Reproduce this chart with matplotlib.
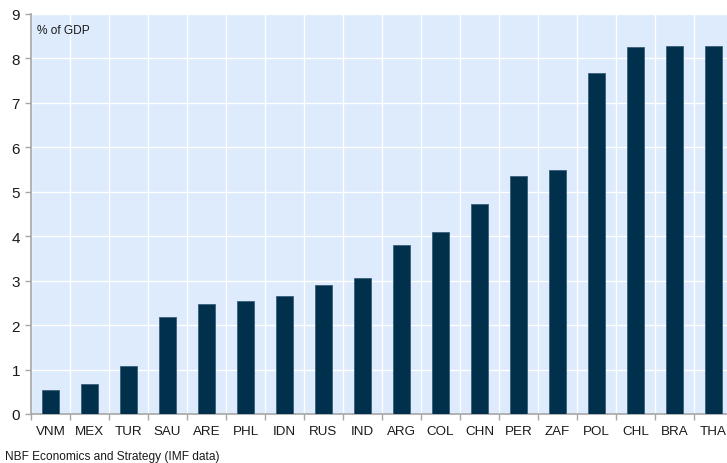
import numpy as np
import matplotlib.pyplot as plt
from matplotlib.ticker import FixedLocator

plt.rcParams['font.family'] = ['Liberation Sans', 'DejaVu Sans']

countries = ['VNM', 'MEX', 'TUR', 'SAU', 'ARE', 'PHL', 'IDN', 'RUS', 'IND',
             'ARG', 'COL', 'CHN', 'PER', 'ZAF', 'POL', 'CHL', 'BRA', 'THA']
values = [0.54, 0.67, 1.07, 2.19, 2.47, 2.54, 2.65, 2.90, 3.05,
          3.80, 4.10, 4.72, 5.35, 5.48, 7.68, 8.25, 8.27, 8.28]

fig = plt.figure(figsize=(7.27, 4.64), dpi=100)
ax = fig.add_axes([31 / 727, 49 / 464, 702 / 727, 400 / 464])
ax.set_facecolor('#DDEBFC')

x = np.arange(len(countries))
ax.bar(x, values, width=0.42, color='#00304C', edgecolor='#3A5F78',
       linewidth=0.6, zorder=3)

ax.set_xlim(-0.5, len(countries) - 0.5)
ax.set_ylim(0, 9)
ax.set_yticks(range(0, 10))
ax.set_xticks(x)
ax.set_xticklabels(countries)
ax.xaxis.set_minor_locator(FixedLocator(np.arange(-0.5, len(countries), 1)))

ax.tick_params(axis='x', which='major', length=0, pad=8, labelsize=9.6,
               colors='#1a1a1a')
ax.tick_params(axis='x', which='minor', length=4, color='#A6A6A6', width=1)
ax.tick_params(axis='y', length=4, color='#A6A6A6', width=1, pad=4,
               labelsize=11, labelcolor='#1a1a1a')

ax.grid(axis='y', color='white', linewidth=1, zorder=1)
ax.grid(axis='x', which='minor', color='white', linewidth=1, zorder=1)
ax.grid(axis='x', which='major', visible=False)

for side in ['top', 'right']:
    ax.spines[side].set_visible(False)
for side in ['left', 'bottom']:
    ax.spines[side].set_color('#A6A6A6')
    ax.spines[side].set_linewidth(1.2)

ax.text(0.008, 0.975, '% of GDP', transform=ax.transAxes, fontsize=8.6,
        va='top', ha='left', color='#1a1a1a')
fig.text(5 / 727, 1 - 457 / 464, 'NBF Economics and Strategy (IMF data)',
         fontsize=8.6, va='center', ha='left', color='#1a1a1a')

fig.savefig('out.png', dpi=100)
